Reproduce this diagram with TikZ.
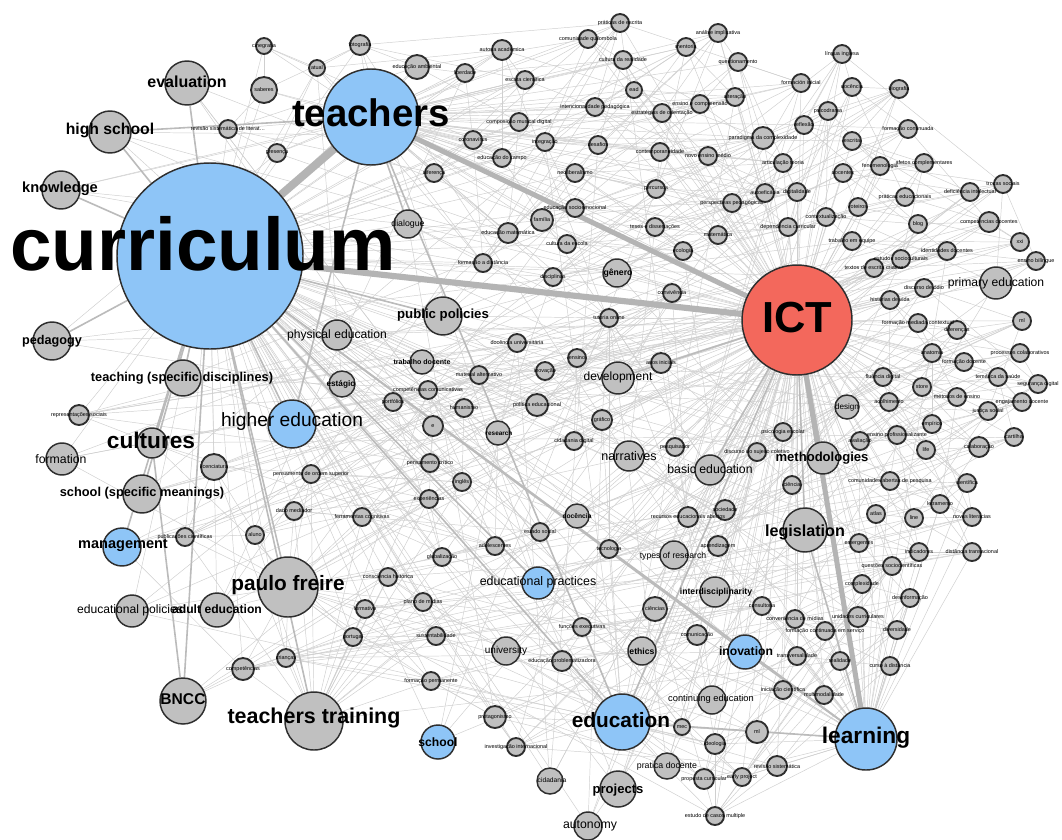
\documentclass[tikz,border=0pt]{standalone}
\usepackage{fontspec}
\setmainfont{Liberation Sans}
\usetikzlibrary{backgrounds}
\definecolor{nodeblue}{HTML}{8EC5F7}
\definecolor{nodered}{HTML}{F3685C}
\definecolor{nodegray}{HTML}{C0C0C0}
\definecolor{rimgray}{HTML}{2E2E2E}
\definecolor{linkgray}{HTML}{B4B4B4}
\tikzset{
  vtx/.style={circle, draw=rimgray, line width=1.1pt, inner sep=0pt, fill=nodegray},
  tinyvtx/.style={vtx, line width=1.4pt},
  lab/.style={inner sep=0pt, text=black},
  tinylab/.style={lab, font=\fontsize{4.1}{4.1}\selectfont},
  lnk/.style={draw=black!19, line width=.35pt},
  lnkm/.style={draw=linkgray!90, line width=1.2pt},
  lnkh/.style={draw=linkgray, line width=4.2pt},
}
% x/y/radius/label of the small topics (pixel grid)
\newcommand{\tinyset}{264/46/8/cinegrafia, 264/90/13/saberes, 228/129/9/revisão sistemática de literat\ldots, 277/153/9/presença,
  317/68/8/atual, 360/45/10/fotografia, 417/67/12/educação ambiental, 465/73/9/liberdade, 502/50/10/autoria acadêmica,
  525/80/9/escrita científica, 519/122/9/composição musical digital, 473/140/9/coronavírus, 502/158/9/educação do campo,
  434/173/9/diferença, 508/233/10/educação matemática, 483/263/9/formação a distância, 620/23/9/práticas de escrita,
  588/39/9/comunidade quilombola, 623/60/9/cultura da realidade, 634/90/8/ead, 595/107/9/intencionalidade pedagógica,
  662/113/9/estratégias de orientação, 700/104/9/ensino e compreensão, 735/97/9/alteração, 686/47/9/mentoria,
  718/33/9/análise implicativa, 738/62/9/questionamento, 801/83/9/formación inicial, 545/142/9/integração,
  598/145/9/desafios, 763/138/11/paradigma da complexidade, 660/152/9/contemporaneidade, 708/156/9/novo ensino médio,
  783/163/9/articulação teoria, 575/173/9/neoliberalismo, 656/189/9/percursos, 765/193/9/autoeficácia,
  797/192/9/digitalidade, 732/203/9/perspectivas pedagógicas, 575/208/9/educação socioemocional, 542/220/11/família,
  655/227/9/teses e dissertações, 718/235/9/matemática, 788/227/9/dependência curricular, 567/244/9/cultura da escola,
  683/251/9/ecologia, 553/277/9/disciplinas, 842/54/9/língua inglesa, 852/87/9/docência, 899/89/9/biografia,
  828/111/9/psicodrama, 804/125/9/reflexão, 908/129/9/formação continuada, 852/141/9/escrita, 880/166/9/fenomenologia,
  924/163/9/afetos complementares, 843/173/9/docentes, 970/192/9/deficiência intelectual, 1003/184/9/trocas sociais,
  905/197/9/práticas educacionais, 858/207/9/roteiros, 826/217/9/contextualização, 918/224/9/blog,
  989/222/10/competências docentes, 1020/242/9/xxi, 852/241/9/trabalho em equipe, 901/259/9/estudos socioculturais,
  947/251/9/identidades docentes, 874/268/9/textos de escrita criativa, 1036/261/9/ensino bilíngue,
  79/415/10/representações sociais, 214/467/13/licenciatura, 185/537/9/publicações científicas, 255/535/9/aluno,
  517/343/9/docência universitária, 479/375/9/material alternativo, 428/390/9/competências comunicativas,
  393/402/9/portfólios, 464/408/9/humanismo, 537/405/11/política educacional, 433/426/10/e,
  430/463/9/pensamento crítico, 462/482/9/inglês, 311/474/9/pensamento de ordem superior, 429/499/9/experiências,
  294/511/9/dado mediador, 362/517/9/ferramentas cognitivas, 495/546/9/adolescentes, 442/557/9/globalização,
  540/532/9/estado social, 672/293/9/convivência, 609/318/9/tutoria online, 577/358/9/ensino, 661/363/10/anos iniciais,
  545/371/9/inovação, 602/420/10/gráfico, 574/441/9/cidadania digital, 675/447/9/pesquisador,
  783/432/9/psicologia escolar, 757/452/9/discurso do sujeito coletivo, 725/510/10/sociedade,
  688/517/10/recursos educacionais abertos, 609/549/9/tecnologia, 718/546/10/aprendizagem, 792/485/9/ciência,
  924/288/9/discurso de ódio, 890/300/9/histórias de vida, 918/323/9/formação mediada contextual, 957/330/9/diferenças,
  1022/321/9/ml, 932/353/9/anatomia, 964/362/9/formação docente, 1020/353/9/processos colaborativos,
  883/377/9/fluência digital, 922/387/9/store, 998/377/9/temática da saúde, 1038/384/9/segurança digital,
  889/402/9/acolhimento, 957/397/9/métodos de ensino, 1022/402/9/engajamento docente, 988/411/9/justiça social,
  932/424/9/empírico, 860/441/9/avaliação, 897/435/9/ensino profissionalizante, 926/450/9/life, 979/447/10/colaboração,
  1014/437/9/cartilha, 890/481/9/comunidades abertas de pesquisa, 967/483/9/científica, 940/504/9/letramento,
  876/514/9/atlas, 914/518/9/line, 972/517/9/novas literacias, 859/543/9/emergentes, 919/552/9/indicadores,
  972/552/9/distância transacional, 243/669/11/competências, 388/577/9/consciência histórica, 423/602/9/plano de mídias,
  365/609/9/formativo, 353/637/9/portugal, 436/636/9/sustentabilidade, 286/658/9/crianças,
  431/681/9/formação permanente, 495/717/11/protagonismo, 516/747/9/investigação internacional, 655/609/12/ciências,
  762/606/9/consultoria, 582/627/9/funções executivas, 697/635/10/comunicação, 562/661/10/educação problematizadora,
  682/727/8/mec, 757/732/11/ml, 715/744/10/ideologia, 704/779/10/proposta curricular, 742/777/9/early project,
  777/766/10/revisão sistemática, 715/816/9/estudo de casos multiple, 892/566/9/questões sociocientíficas,
  862/584/9/complexidade, 910/598/9/desinformação, 858/617/10/unidades curriculares,
  825/631/9/formação continuada em serviço, 795/619/9/conveniência de mídias, 897/630/9/diversidade,
  797/656/9/transversalidade, 840/661/9/realidade, 890/666/9/curso à distância, 824/695/9/multimodalidade,
  783/690/9/iniciação científica}
% name/x/y/radius/label dx/label dy/font size/weight/fill/label
\newcommand{\mainset}{cidadania/550/781/13/2/-1/5/m/nodegray/cidadania, docencia/577/516/12/0/0/5/b/nodegray/docência,
  research/498/433/12/1/0/4.8/b/nodegray/research, trabalho/422/362/12/0/0/5.3/b/nodegray/trabalho docente,
  design/847/407/12/0/0/6.1/m/nodegray/design, estagio/342/384/13/-1/0/6.2/b/nodegray/estágio,
  genero/617/273/14/1/0/6.5/b/nodegray/gênero, pratica/667/766/13/0/0/6.6/m/nodegray/pratica docente,
  dialogue/408/224/14/0/0/6.6/m/nodegray/dialogue, ethics/642/651/14/0/0/6.5/b/nodegray/ethics,
  typesres/674/555/14/-1/1/6.5/m/nodegray/types of research, interdisc/715/592/15/1/0/6.5/b/nodegray/interdisciplinarity,
  continuing/712/700/14/-1/-1/7/m/nodegray/continuing education, university/506/651/14/0/0/7.5/m/nodegray/university,
  autonomy/588/826/14/2/0/9.2/m/nodegray/autonomy, edpractices/538/583/16/0/-1/9.3/m/nodeblue/educational practices,
  primaryed/996/283/16/0/0/9.1/m/nodegray/primary education, basiced/710/470/15/0/-1/9.2/m/nodegray/basic education,
  narratives/629/456/15/0/0/9.4/m/nodegray/narratives, development/618/378/16/0/-1/9/m/nodegray/development,
  physed/337/335/15/0/0/9.1/m/nodegray/physical education, edpolicies/132/611/16/-2/-1/9.1/m/nodegray/educational policies,
  formation/62/459/16/-1/0/9.2/m/nodegray/formation, adulted/217/610/17/0/-1/9.1/b/nodegray/adult education,
  inovation/745/652/17/1/-1/9.1/b/nodeblue/inovation, school/438/742/17/0/0/9.1/b/nodeblue/school,
  projects/618/789/18/0/1/9.8/b/nodegray/projects, methodologies/823/458/16/-1/0/9.8/b/nodegray/methodologies,
  publicpol/443/316/19/0/-1/9.9/b/nodegray/public policies,
  schoolsm/142/494/19/0/-1/9.6/b/nodegray/school (specific meanings),
  teaching/183/378/18/-1/0/9.6/b/nodegray/teaching (specific disciplines), pedagogy/52/341/19/0/0/9.5/b/nodegray/pedagogy,
  management/122/547/19/1/-2/10.9/b/nodeblue/management, BNCC/183/701/23/0/-2/11.7/b/nodegray/BNCC,
  legislation/805/530/22/0/2/12.1/b/nodegray/legislation, knowledge/61/190/19/-1/-1/11/b/nodegray/knowledge,
  highschool/110/132/21/0/-2/11.8/b/nodegray/high school, evaluation/187/83/22/0/-1/12/b/nodegray/evaluation,
  higher/292/424/24/0/-2/14.4/m/nodeblue/higher education, cultures/152/443/15/-1/-3/17/b/nodegray/cultures,
  freire/288/587/30/0/-2/15.6/b/nodegray/paulo freire, education/622/722/28/-1/-2/15.6/b/nodeblue/education,
  ttraining/314/721/29/0/-3/16.1/b/nodegray/teachers training, learning/866/739/31/0/-1/17/b/nodeblue/learning,
  teachers/371/117/48/0/-4/28.8/b/nodeblue/teachers, ICT/797/320/55/0/-2/32.6/b/nodered/ICT,
  curriculum/210/256/93/-7/-12/56/b/nodeblue/curriculum}

\begin{document}
\begin{tikzpicture}[x=0.75pt, y=-0.75pt]
  \useasboundingbox (0,0) rectangle (1062,839);
  % topics
  \foreach \x/\y/\rad/\txt [count=\k] in \tinyset { \node[tinyvtx, minimum size=\rad*1.5pt] (s\k) at (\x,\y) {}; }
  \foreach \n/\x/\y/\rad/\dx/\dy/\fs/\w/\fc/\txt in \mainset { \node[vtx, fill=\fc, minimum size=\rad*1.5pt] (\n) at (\x,\y) {}; }
  \foreach \x/\y/\rad/\txt [count=\k] in \tinyset { \node[tinylab] (s\k-t) at (s\k) {\txt}; }
  \foreach \n/\x/\y/\rad/\dx/\dy/\fs/\w/\fc/\txt in \mainset {
    \node[lab, font=\fontsize{\fs}{\fs}\selectfont\if b\w\bfseries\fi] (\n-t) at ([shift={(\dx,\dy)}]\n) {\txt}; }
  % co-occurrence links
  \begin{pgfonlayer}{background}
    \fill[white] (0,0) rectangle (1062,839);
    \foreach \x/\y/\rad/\txt [count=\k] in \tinyset {
      \ifdim\x pt>560pt \draw[lnk] (ICT) -- (s\k); \fi
      \ifdim\x pt<600pt \draw[lnk] (curriculum) -- (s\k); \fi
      \ifdim\y pt<330pt \ifdim\x pt<820pt \draw[lnk] (teachers) -- (s\k); \fi\fi
      \ifdim\y pt>470pt \ifdim\x pt>640pt \draw[lnk] (learning) -- (s\k); \fi\fi
      \ifdim\y pt>540pt \ifdim\x pt>380pt \ifdim\x pt<820pt \draw[lnk] (education) -- (s\k); \fi\fi\fi
      \ifdim\y pt>440pt \ifdim\x pt<480pt \draw[lnk] (ttraining) -- (s\k); \draw[lnk] (freire) -- (s\k); \fi\fi
      \pgfmathtruncatemacro\ka{\k+1}
      \pgfmathtruncatemacro\kb{\k+4}
      \pgfmathtruncatemacro\kc{\k+11}
      \ifnum\ka<171 \draw[lnk] (s\k) -- (s\ka); \fi
      \ifnum\kb<171 \draw[lnk] (s\k) -- (s\kb); \fi
      \ifnum\kc<171 \draw[lnk] (s\k) -- (s\kc); \fi
    }
    \foreach \n [count=\m] in {cidadania,docencia,research,trabalho,design,estagio,genero,pratica,dialogue,ethics,typesres,
        interdisc,continuing,university,autonomy,edpractices,primaryed,basiced,narratives,development,physed,edpolicies,
        formation,adulted,inovation,school,projects,methodologies,publicpol,schoolsm,teaching,pedagogy,management,BNCC,
        legislation,knowledge,highschool,evaluation,higher,cultures,freire,education,ttraining,learning} {
      \draw[lnk] (curriculum) -- (\n);
      \draw[lnk] (ICT) -- (\n);
      \pgfmathtruncatemacro\ja{mod(\m*29,170)+1}
      \pgfmathtruncatemacro\jb{mod(\m*53+7,170)+1}
      \pgfmathtruncatemacro\jc{mod(\m*71+3,170)+1}
      \draw[lnk] (\n) -- (s\ja);
      \draw[lnk] (\n) -- (s\jb);
      \draw[lnk] (\n) -- (s\jc);
    }
    \foreach \a/\b in {curriculum/highschool,curriculum/knowledge,curriculum/evaluation,curriculum/cultures,
        curriculum/schoolsm,curriculum/teaching,curriculum/management,curriculum/freire,curriculum/ttraining,
        curriculum/higher,curriculum/publicpol,curriculum/inovation,curriculum/learning,curriculum/BNCC,
        curriculum/pedagogy,curriculum/education,curriculum/edpractices,teachers/dialogue,teachers/higher,
        teachers/education,teachers/highschool,ICT/methodologies,ICT/legislation,ICT/basiced,ICT/development,
        ICT/education,learning/legislation,learning/education,learning/inovation,cultures/BNCC}
      \draw[lnkm] (\a) -- (\b);
    \draw[lnkh, line width=4.6pt] (curriculum) -- (ICT);
    \draw[lnkh, line width=6pt] (curriculum) -- (teachers);
    \draw[lnkh, line width=3.8pt] (teachers) -- (ICT);
    \draw[lnkh, line width=3.8pt] (ICT) -- (learning);
  \end{pgfonlayer}
\end{tikzpicture}
\end{document}
